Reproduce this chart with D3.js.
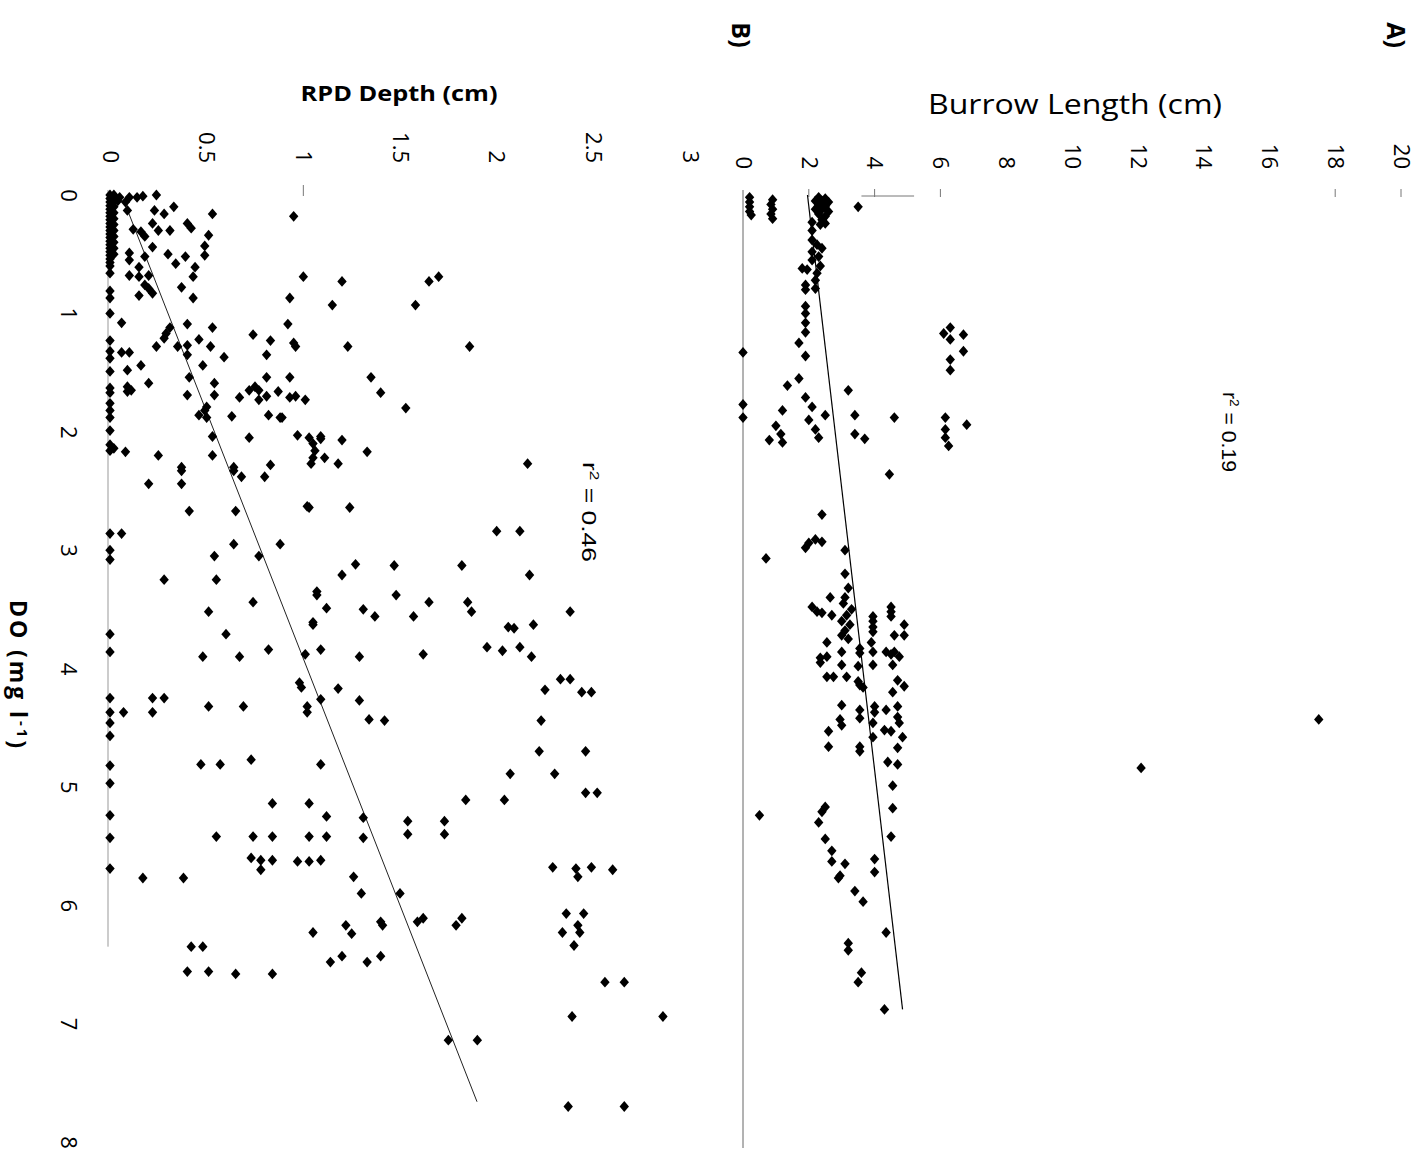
<!DOCTYPE html>
<html>
<head>
<meta charset="utf-8">
<script src="https://cdn.jsdelivr.net/npm/d3@7"></script>
<style>
  body { margin: 0; background: #fff; }
  svg { display: block; }
</style>
</head>
<body>
<div id="chart"></div>
<script>
// the figure is printed sideways: DO runs down the page, depth/length run to the right
const doTicks = [0, 1, 2, 3, 4, 5, 6, 7, 8];
const rpdTicks = [0, 0.5, 1, 1.5, 2, 2.5, 3];
const burrowTicks = [0, 2, 4, 6, 8, 10, 12, 14, 16, 18, 20];

// panel A: [DO, burrow length]
const burrowPoints = [
  [0.02, 0.2], [0.06, 0.2], [0.1, 0.2], [0.14, 0.2], [0.17, 0.25],
  [0.04, 0.9], [0.08, 0.85], [0.12, 0.9], [0.16, 0.85], [0.2, 0.9],
  [0.02, 2.3], [0.03, 2.5], [0.05, 2.4], [0.06, 2.6], [0.08, 2.3], [0.1, 2.5], [0.12, 2.4],
  [0.14, 2.6], [0.16, 2.3], [0.18, 2.5], [0.21, 2.4], [0.24, 2.5], [0.05, 2.2], [0.12, 2.2],
  [0.1, 3.5],
  [0.23, 2.1], [0.25, 2.35], [0.3, 2.1], [0.38, 2.1], [0.42, 2.25], [0.45, 2.4], [0.48, 2.1],
  [0.52, 2.3], [0.55, 2.1], [0.6, 2.35], [0.62, 1.8], [0.63, 1.95], [0.66, 2.25], [0.72, 2.2],
  [0.76, 1.9], [0.79, 2.2], [0.8, 1.9],
  [0.94, 1.9], [1.0, 1.9], [1.08, 1.9], [1.16, 1.9],
  [1.25, 1.7], [1.36, 1.9], [1.33, 0], [1.55, 1.7], [1.61, 1.35], [1.65, 3.2], [1.77, 0], [1.88, 0],
  [1.71, 1.9], [1.79, 2.1], [1.82, 1.2], [1.86, 2.5], [1.86, 3.4], [1.88, 4.6], [1.9, 2.0],
  [1.95, 1.0], [1.98, 2.2], [2.02, 1.15], [2.07, 0.8], [2.09, 1.2], [2.05, 2.3], [2.02, 3.4],
  [2.06, 3.7], [1.94, 6.8],
  [1.12, 6.3], [1.17, 6.1], [1.22, 6.3], [1.18, 6.7], [1.32, 6.7], [1.39, 6.3], [1.48, 6.3],
  [1.88, 6.15], [1.98, 6.15], [2.05, 6.15], [2.12, 6.25], [2.36, 4.45],
  [2.7, 2.4], [2.98, 1.9], [2.94, 2.0], [2.91, 2.2], [2.93, 2.4], [3.07, 0.7], [3.0, 3.1],
  [3.2, 3.1], [3.32, 3.2], [3.4, 2.65], [3.4, 3.1], [3.48, 2.1], [3.52, 2.25], [3.53, 2.4],
  [3.55, 2.7], [3.45, 3.05], [3.5, 3.3], [3.55, 3.15], [3.6, 3.0], [3.63, 3.25], [3.68, 3.1],
  [3.72, 3.0], [3.75, 3.2], [3.48, 4.5], [3.52, 4.5], [3.56, 4.5], [3.56, 3.95], [3.6, 3.95],
  [3.65, 3.95], [3.69, 3.95], [3.63, 4.9], [3.72, 4.6], [3.72, 4.9], [3.78, 2.55], [3.78, 3.9],
  [3.83, 3.55], [3.87, 3.55], [3.86, 3.95], [3.86, 4.35], [3.88, 4.5], [3.86, 4.6], [3.9, 4.75],
  [3.86, 3.0], [3.91, 2.35], [3.95, 2.35], [3.9, 2.55], [3.97, 3.0], [3.98, 3.5], [3.97, 3.95],
  [3.97, 4.55], [4.07, 2.55], [4.07, 2.75], [4.07, 3.15], [4.11, 3.5], [4.16, 3.65], [4.14, 3.55],
  [4.1, 4.7], [4.15, 4.9], [4.2, 4.55], [4.31, 3.0], [4.35, 3.55], [4.42, 3.55], [4.32, 4.0],
  [4.37, 4.0], [4.35, 4.35], [4.32, 4.7], [4.41, 4.7], [4.43, 2.95], [4.48, 3.0], [4.46, 3.95],
  [4.58, 3.95], [4.52, 4.3], [4.53, 4.5], [4.46, 4.75], [4.58, 4.85], [4.53, 2.6], [4.66, 2.6],
  [4.66, 3.55], [4.7, 3.55], [4.67, 4.7], [4.79, 4.4], [4.81, 4.7], [4.99, 4.55], [5.18, 4.55],
  [5.24, 0.5], [5.17, 2.5], [5.21, 2.4], [5.3, 2.3],
  [5.42, 4.5], [5.44, 2.5], [5.54, 2.7], [5.63, 2.7], [5.65, 3.1], [5.61, 4.0], [5.72, 4.0],
  [5.77, 2.9], [5.75, 2.95], [5.88, 3.4], [5.97, 3.65], [6.23, 4.35], [6.32, 3.2], [6.38, 3.2],
  [6.57, 3.6], [6.65, 3.5], [6.88, 4.3],
  [4.43, 17.5], [4.84, 12.1]
];

// panel B: [DO, RPD depth]
const rpdPoints = [
  [0, 0], [0.03, 0], [0.06, 0], [0.09, 0], [0.12, 0], [0.15, 0], [0.18, 0], [0.21, 0], [0.24, 0],
  [0.27, 0], [0.3, 0], [0.33, 0], [0.36, 0], [0.39, 0], [0.42, 0], [0.45, 0], [0.48, 0], [0.51, 0],
  [0.54, 0], [0.57, 0], [0.6, 0],
  [0, 0.02], [0.05, 0.02], [0.1, 0.02], [0.15, 0.02], [0.2, 0.02], [0.25, 0.02], [0.3, 0.02],
  [0.35, 0.02], [0.4, 0.02], [0.45, 0.02], [0.5, 0.02],
  [0.02, 0.05], [0.02, 0.1], [0.02, 0.14], [0.01, 0.17], [0.05, 0.04], [0.06, 0.08], [0.0, 0.24],
  [0.66, 0], [0.81, 0], [0.87, 0], [1.0, 0], [1.23, 0], [1.32, 0], [1.38, 0], [1.49, 0], [1.63, 0],
  [1.67, 0], [1.76, 0], [1.82, 0], [1.88, 0], [1.99, 0], [2.11, 0], [2.16, 0], [2.14, 0.02],
  [0.13, 0.09], [0.13, 0.23], [0.16, 0.28], [0.1, 0.33], [0.16, 0.53], [0.18, 0.95], [0.24, 0.22],
  [0.29, 0.12], [0.31, 0.16], [0.3, 0.25], [0.3, 0.31], [0.24, 0.4], [0.28, 0.42], [0.34, 0.51],
  [0.35, 0.18], [0.43, 0.49], [0.44, 0.22], [0.51, 0.49], [0.5, 0.3], [0.52, 0.39], [0.49, 0.1],
  [0.55, 0.1], [0.52, 0.18], [0.58, 0.34], [0.61, 0.15], [0.61, 0.44], [0.68, 0.1], [0.69, 0.15],
  [0.68, 0.2], [0.69, 0.43], [0.69, 1.0], [0.76, 0.18], [0.79, 0.2], [0.83, 0.22], [0.78, 0.37],
  [0.85, 0.15], [0.87, 0.43], [0.87, 0.93], [1.08, 0.06], [1.09, 0.4], [1.12, 0.53], [1.09, 0.92],
  [1.12, 0.31], [1.17, 0.29], [1.21, 0.28], [1.18, 0.74], [1.23, 0.83], [1.25, 0.95], [1.28, 0.96],
  [1.28, 0.24], [1.28, 0.35], [1.27, 0.4], [1.22, 0.46], [1.28, 0.52], [1.33, 0.06], [1.33, 0.1],
  [1.35, 0.4], [1.37, 0.59], [1.35, 0.81], [1.44, 0.16], [1.44, 0.48], [1.48, 0.09], [1.54, 0.93],
  [1.54, 0.81], [1.59, 0.2], [1.54, 0.41], [1.59, 0.54], [1.62, 0.09], [1.65, 0.11], [1.66, 0.09],
  [1.65, 0.72], [1.62, 0.75], [1.65, 0.77], [1.66, 0.87], [1.69, 0.4], [1.69, 0.54], [1.71, 0.67],
  [1.73, 0.77], [1.7, 0.81], [1.71, 0.93], [1.7, 0.96], [1.73, 1.01], [1.79, 0.5], [1.82, 0.49],
  [1.87, 0.63], [1.86, 0.46], [1.88, 0.5], [1.86, 0.82], [1.88, 0.88], [1.88, 0.89],
  [2.04, 0.53], [2.05, 0.72], [2.03, 0.97], [2.05, 1.03], [2.1, 1.05], [2.16, 1.06], [2.22, 1.05],
  [2.27, 1.04], [2.17, 0.08], [2.2, 0.25], [2.2, 0.53], [2.3, 0.37], [2.3, 0.64], [2.28, 0.83],
  [0.73, 1.2], [0.73, 1.65], [0.69, 1.7], [0.93, 1.15], [0.93, 1.58], [1.28, 1.23], [1.28, 1.86],
  [1.54, 1.35], [1.67, 1.4], [1.8, 1.53], [2.04, 1.09], [2.06, 1.09], [2.07, 1.2],
  [2.17, 1.33], [2.22, 1.11], [2.27, 1.18], [2.27, 2.16], [2.64, 1.03], [2.64, 1.24],
  [2.84, 2.0], [2.84, 2.12], [3.12, 1.27], [3.21, 1.2], [3.13, 1.47], [3.13, 1.82], [3.21, 2.17],
  [3.38, 1.07], [3.49, 1.12], [3.5, 1.31], [3.56, 1.37], [3.38, 1.48], [3.56, 1.57], [3.44, 1.65],
  [3.44, 1.85], [3.52, 1.87], [3.52, 2.38], [3.63, 1.05], [3.65, 2.06], [3.66, 2.09], [3.63, 2.19],
  [3.88, 1.01], [3.84, 1.09], [3.9, 1.29], [3.88, 1.62], [3.82, 1.95], [3.85, 2.03], [3.82, 2.12],
  [3.9, 2.18], [4.09, 2.33], [4.09, 2.38], [4.18, 2.25], [4.2, 2.44], [4.2, 2.49], [4.16, 0.99],
  [4.17, 1.18], [4.26, 1.09], [4.27, 1.29], [4.37, 1.02], [4.43, 1.34], [4.44, 1.42], [4.44, 2.23],
  [4.7, 2.22], [4.7, 2.46], [4.81, 1.09], [4.89, 2.07], [4.89, 2.3], [5.05, 2.46], [5.05, 2.52],
  [5.11, 1.84], [5.11, 2.04], [5.14, 1.03], [5.25, 1.12], [5.26, 1.31], [5.29, 1.54], [5.4, 1.54],
  [5.29, 1.73], [5.4, 1.73], [5.42, 1.03], [5.42, 1.12], [5.43, 1.31], [5.63, 0.97], [5.63, 1.03],
  [5.62, 1.09], [5.68, 2.29], [5.69, 2.41], [5.76, 2.42], [5.68, 2.49], [5.7, 2.6], [5.76, 1.26],
  [5.9, 1.3], [5.9, 1.5], [6.07, 2.36], [6.07, 2.45], [6.17, 2.42], [6.23, 2.43], [6.23, 2.34],
  [6.34, 2.4], [6.14, 1.59], [6.11, 1.62], [6.17, 1.79], [6.11, 1.82], [6.14, 1.4], [6.17, 1.41],
  [6.17, 1.22], [6.24, 1.25], [6.23, 1.05], [6.43, 1.2], [6.48, 1.14], [6.48, 1.33], [6.43, 1.4],
  [6.65, 2.56], [6.65, 2.66], [6.94, 2.39], [6.94, 2.86], [7.14, 1.75], [7.14, 1.9], [7.7, 2.37],
  [7.7, 2.66],
  [2.33, 0.64], [2.38, 0.68], [2.38, 0.8], [2.33, 0.37], [2.44, 0.37], [2.44, 0.2], [2.63, 1.02],
  [2.67, 0.41], [2.67, 0.65], [2.86, 0], [2.86, 0.06], [3.0, 0], [3.08, 0], [2.95, 0.64],
  [2.95, 0.88], [3.05, 0.54], [3.05, 0.77], [3.25, 0.28], [3.25, 0.55], [3.35, 1.07], [3.52, 0.51],
  [3.44, 0.74], [3.71, 0], [3.86, 0], [3.71, 0.6], [3.61, 1.05], [3.9, 0.48], [3.9, 0.67],
  [3.84, 0.82], [4.12, 0.98], [4.25, 0], [4.37, 0], [4.46, 0], [4.57, 0], [4.37, 0.07],
  [4.25, 0.22], [4.25, 0.28], [4.37, 0.22], [4.32, 0.51], [4.32, 0.69], [4.32, 1.02], [4.82, 0],
  [4.81, 0.47], [4.81, 0.57], [4.77, 0.73], [4.97, 0], [5.24, 0], [5.43, 0], [5.69, 0],
  [5.14, 0.84], [5.42, 0.55], [5.42, 0.74], [5.42, 0.84], [5.6, 0.73], [5.62, 0.78], [5.7, 0.78],
  [5.62, 0.84], [5.77, 0.17], [5.77, 0.38], [6.35, 0.42], [6.35, 0.48], [6.56, 0.4], [6.56, 0.51],
  [6.58, 0.65], [6.58, 0.84]
];

// fitted lines
const fitA = { intercept: 1.96, slope: 0.42, from: 0.0, to: 6.88, r2: "0.19" };
const fitB = { intercept: 0.06, slope: 0.24, from: 0.1, to: 7.66, r2: "0.46" };

const width = 1419;
const height = 1157;

const svg = d3.select('#chart').append('svg')
  .attr('width', width)
  .attr('height', height)
  .style('font-family', '"Liberation Sans", Arial, sans-serif');

const y = d3.scaleLinear().domain([0, 8]).range([195, 1142]);
const xB = d3.scaleLinear().domain([0, 3]).range([110, 690]);
const xA = d3.scaleLinear().domain([0, 20]).range([743, 1401]);

const diamond = 'M0,-5.4L4.7,0L0,5.4L-4.7,0Z';

// axis lines along DO = baseline of each panel
svg.append('line')
  .attr('x1', xA(0)).attr('x2', xA(0))
  .attr('y1', 190).attr('y2', 1148)
  .attr('stroke', '#666').attr('stroke-width', 1);
svg.append('line')
  .attr('x1', xB(0) - 2).attr('x2', xB(0) - 2)
  .attr('y1', 190).attr('y2', y(6.35))
  .attr('stroke', '#999').attr('stroke-width', 1);

// leftover tick marks along the top edge
svg.append('g')
  .selectAll('line')
  .data([2, 4, 6, 18, 20])
  .join('line')
  .attr('x1', d => xA(d)).attr('x2', d => xA(d))
  .attr('y1', 189).attr('y2', 197)
  .attr('stroke', '#777');
svg.append('line')
  .attr('x1', xA(3.6)).attr('x2', xA(5.2))
  .attr('y1', 196).attr('y2', 196)
  .attr('stroke', '#777');
svg.append('line')
  .attr('x1', xB(1)).attr('x2', xB(1))
  .attr('y1', 185).attr('y2', 196)
  .attr('stroke', '#777');

const tickFont = '"Open Sans", sans-serif';
const tickSize = 22;

// DO axis (left)
svg.append('g')
  .attr('transform', 'translate(69,0)')
  .call(d3.axisLeft(y).tickValues(doTicks).tickSize(0).tickFormat(String))
  .call(g => g.select('.domain').remove())
  .call(g => g.selectAll('text')
    .attr('x', 0).attr('y', 0).attr('dy', '0.35em')
    .attr('transform', 'rotate(90)')
    .attr('text-anchor', 'middle')
    .attr('font-size', tickSize)
    .attr('font-family', tickFont)
    .attr('fill', '#000'));

// RPD axis (top of panel B)
svg.append('g')
  .attr('transform', 'translate(0,163)')
  .call(d3.axisTop(xB).tickValues(rpdTicks).tickSize(0).tickFormat(String))
  .call(g => g.select('.domain').remove())
  .call(g => g.selectAll('text')
    .attr('x', 0).attr('y', 0).attr('dy', '0.35em')
    .attr('transform', 'rotate(90)')
    .attr('text-anchor', 'end')
    .attr('font-size', tickSize)
    .attr('font-family', tickFont)
    .attr('fill', '#000'));

// Burrow axis (top of panel A)
svg.append('g')
  .attr('transform', 'translate(0,169)')
  .call(d3.axisTop(xA).tickValues(burrowTicks).tickSize(0).tickFormat(String))
  .call(g => g.select('.domain').remove())
  .call(g => g.selectAll('text')
    .attr('x', 0).attr('y', 0).attr('dy', '0.35em')
    .attr('transform', 'rotate(90)')
    .attr('text-anchor', 'end')
    .attr('font-size', tickSize)
    .attr('font-family', tickFont)
    .attr('fill', '#000'));

// regression lines
const fitLine = (fit, x) => d3.line()
  .x(d => x(fit.intercept + fit.slope * d))
  .y(d => y(d))([fit.from, fit.to]);

svg.append('path').attr('d', fitLine(fitA, xA))
  .attr('fill', 'none').attr('stroke', '#000').attr('stroke-width', 1.2);
svg.append('path').attr('d', fitLine(fitB, xB))
  .attr('fill', 'none').attr('stroke', '#222').attr('stroke-width', 1);

// points
svg.append('g').selectAll('path')
  .data(burrowPoints)
  .join('path')
  .attr('d', diamond)
  .attr('transform', d => `translate(${xA(d[1])},${y(d[0])})`)
  .attr('fill', '#000');

svg.append('g').selectAll('path')
  .data(rpdPoints)
  .join('path')
  .attr('d', diamond)
  .attr('transform', d => `translate(${xB(d[1])},${y(d[0])})`)
  .attr('fill', '#000');

// r² notes
function r2Label(x0, y0, value, len) {
  const t = svg.append('text')
    .attr('transform', `translate(${x0},${y0}) rotate(90)`)
    .attr('dy', '0.35em')
    .attr('font-size', 20)
    .attr('textLength', len)
    .attr('lengthAdjust', 'spacingAndGlyphs');
  t.append('tspan').text('r');
  t.append('tspan').attr('font-size', 13).attr('dy', '-0.55em').text('2');
  t.append('tspan').attr('dy', '0.42em').text(' = ' + value);
}
r2Label(1230, 392, fitA.r2, 80);
r2Label(590, 462, fitB.r2, 100);

// titles
svg.append('text')
  .attr('x', 1075).attr('y', 114)
  .attr('text-anchor', 'middle')
  .attr('font-family', '"Open Sans", sans-serif')
  .attr('font-size', 27)
  .attr('textLength', 294).attr('lengthAdjust', 'spacingAndGlyphs')
  .text('Burrow Length (cm)');

svg.append('text')
  .attr('x', 399).attr('y', 101)
  .attr('text-anchor', 'middle')
  .attr('font-family', '"Open Sans", sans-serif')
  .attr('font-weight', 'bold')
  .attr('font-size', 22)
  .attr('textLength', 197).attr('lengthAdjust', 'spacingAndGlyphs')
  .text('RPD Depth (cm)');

const doTitle = svg.append('text')
  .attr('transform', 'translate(18,600) rotate(90)')
  .attr('dy', '0.35em')
  .attr('font-family', '"Open Sans", sans-serif')
  .attr('font-weight', 'bold')
  .attr('font-size', 23)
  .attr('textLength', 148)
  .attr('lengthAdjust', 'spacing');
doTitle.append('tspan').text('DO (mg l');
doTitle.append('tspan').attr('font-size', 15).attr('dy', '-0.5em').text('-1');
doTitle.append('tspan').attr('dy', '0.35em').text(')');

svg.append('text')
  .attr('transform', 'translate(1396,35) rotate(90)')
  .attr('dy', '0.35em')
  .attr('text-anchor', 'middle')
  .attr('font-family', '"Open Sans", sans-serif')
  .attr('font-weight', 'bold')
  .attr('font-size', 25)
  .text('A)');

svg.append('text')
  .attr('transform', 'translate(741,35) rotate(90)')
  .attr('dy', '0.35em')
  .attr('text-anchor', 'middle')
  .attr('font-family', '"Open Sans", sans-serif')
  .attr('font-weight', 'bold')
  .attr('font-size', 25)
  .text('B)');
</script>
</body>
</html>
